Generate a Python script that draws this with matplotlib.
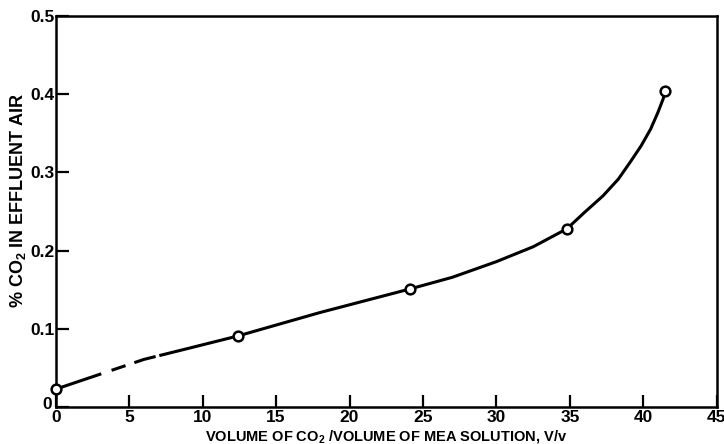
import numpy as np
import matplotlib
matplotlib.use("Agg")
import matplotlib.pyplot as plt
from matplotlib.transforms import ScaledTranslation

# Measured points
pt_x = [0, 12.4, 24.1, 34.8, 41.5]
pt_y = [0.023, 0.091, 0.151, 0.228, 0.404]

# Hand-drawn curve
curve_x = [0, 3, 6, 9, 12.4, 18, 24.1, 27, 30, 32.5, 34.8, 36.0, 37.25, 38.3,
           39.1, 39.85, 40.5, 41.0, 41.35, 41.5]
curve_y = [0.023, 0.042, 0.061, 0.075, 0.091, 0.121, 0.151, 0.166, 0.186, 0.205,
           0.228, 0.249, 0.270, 0.2915, 0.313, 0.334, 0.3555, 0.377, 0.394, 0.404]

x_ticks = [0, 5, 10, 15, 20, 25, 30, 35, 40, 45]
x_ticklabels = ["0", "5", "10", "15", "20", "25", "30", "35", "40", "45"]
y_ticks = [0, 0.1, 0.2, 0.3, 0.4, 0.5]
y_ticklabels = ["0", "0.1", "0.2", "0.3", "0.4", "0.5"]

xlabel = "VOLUME OF CO$_2$ /VOLUME OF MEA SOLUTION, V/v"
ylabel = "% CO$_2$ IN EFFLUENT AIR"

# solid stretches of the line (broken stretch near the start)
solid_parts = [(0, 3.1), (3.8, 4.75), (5.35, 6.8), (7.05, 41.5)]

plt.rcParams['font.family'] = ['Liberation Sans', 'DejaVu Sans']
plt.rcParams['mathtext.fontset'] = 'custom'
plt.rcParams['mathtext.rm'] = 'Liberation Sans'
plt.rcParams['mathtext.bf'] = 'Liberation Sans:bold'
plt.rcParams['mathtext.default'] = 'regular'

fig = plt.figure(figsize=(7.24, 4.44), dpi=100)
ax = fig.add_axes([0.077, 0.083, 0.913, 0.881])

cx = np.array(curve_x)
cy = np.array(curve_y)
for a, b in solid_parts:
    inner = cx[(cx > a) & (cx < b)]
    xs = np.concatenate([[a], inner, [b]])
    ys = np.interp(xs, cx, cy)
    ax.plot(xs, ys, color='black', lw=2.2, solid_capstyle='butt', zorder=2)

ax.plot(pt_x, pt_y, linestyle='none', marker='o', markersize=7,
        markerfacecolor='white', markeredgecolor='black', markeredgewidth=1.8,
        zorder=3, clip_on=False)

ax.set_xlim(0, 45)
ax.set_ylim(0, 0.5)
ax.set_xticks(x_ticks)
ax.set_xticklabels(x_ticklabels)
ax.set_yticks(y_ticks)
ax.set_yticklabels(y_ticklabels)
ax.tick_params(direction='in', length=9, width=1.6, labelsize=12.5, pad=1,
               colors='black')
ax.tick_params(axis='x', pad=2)
for lab in ax.get_xticklabels() + ax.get_yticklabels():
    lab.set_fontweight('bold')
# nudge the y "0" up-left, like the original corner lettering
ylabs = ax.get_yticklabels()
ylabs[0].set_transform(ylabs[0].get_transform() +
                       ScaledTranslation(-2 / 100, 4 / 100, fig.dpi_scale_trans))
for s in ax.spines.values():
    s.set_linewidth(1.8)

ax.set_xlabel(xlabel, fontsize=10.5, fontweight='bold', labelpad=2)
ax.set_ylabel(ylabel, fontsize=13, fontweight='bold')
ax.yaxis.set_label_coords(-0.042, 0.53)

fig.savefig("out.png", dpi=100)
